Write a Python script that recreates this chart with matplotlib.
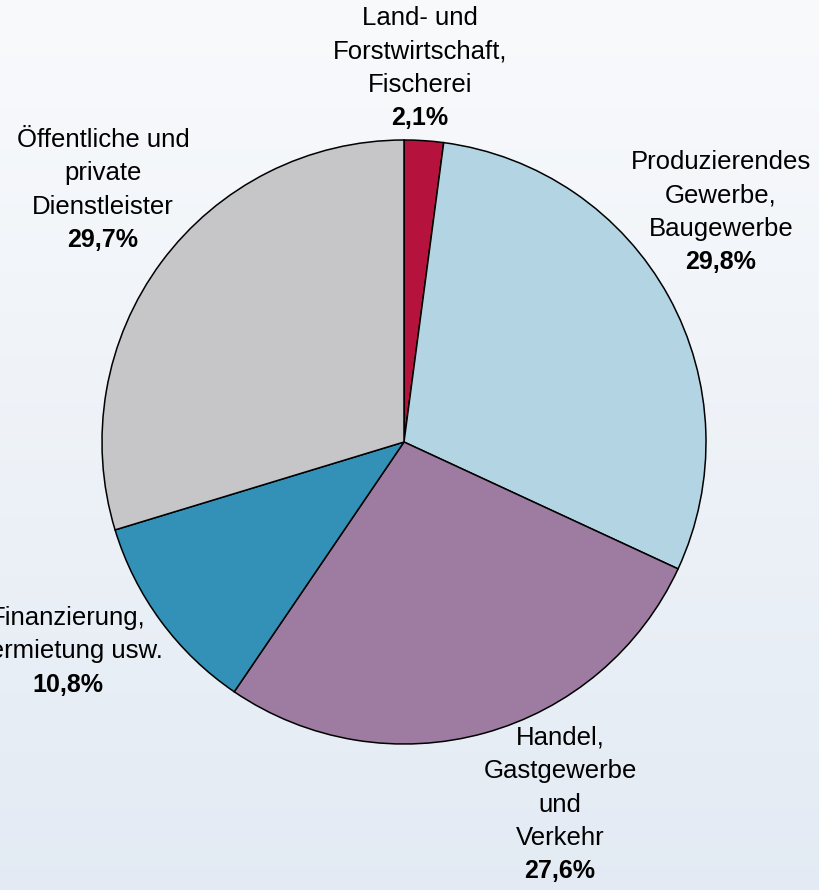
import matplotlib.pyplot as plt
import numpy as np

plt.rcParams['font.family'] = ['Liberation Sans', 'DejaVu Sans']

# Anteile der Wirtschaftsbereiche (im Uhrzeigersinn ab 12 Uhr)
sectors = [
    'Land- und\nForstwirtschaft,\nFischerei',
    'Produzierendes\nGewerbe,\nBaugewerbe',
    'Handel,\nGastgewerbe\nund\nVerkehr',
    'Finanzierung,\nVermietung usw.',
    'Öffentliche und\nprivate\nDienstleister',
]
shares = [2.1, 29.8, 27.6, 10.8, 29.7]
colors = ['#b5123e', '#b3d5e3', '#9e7ba0', '#3390b7', '#c6c6c8']
# label anchors (pixel x, pixel y of first line, from top)
label_pos = [(420, 18), (721, 162), (560, 738), (68, 618), (103, 140)]

W, H = 819, 890
fig = plt.figure(figsize=(W / 100, H / 100), dpi=100)

# background gradient
bg = fig.add_axes([0, 0, 1, 1])
grad = np.linspace(0, 1, 256).reshape(-1, 1)
top = np.array([0.975, 0.980, 0.988])
bottom = np.array([0.890, 0.920, 0.955])
img = top + (bottom - top) * grad[..., None]
bg.imshow(img, aspect='auto', extent=[0, 1, 0, 1], origin='upper')
bg.axis('off')

ax = fig.add_axes([0, 0, 1, 1])
ax.pie(shares, colors=colors, startangle=90, counterclock=False,
       center=(404, H - 442), radius=302, frame=True,
       wedgeprops=dict(edgecolor='black', linewidth=1.1))
ax.set_xlim(0, W)
ax.set_ylim(0, H)
ax.set_aspect('equal')
ax.axis('off')

step = 33.3
for name, val, (x, y) in zip(sectors, shares, label_pos):
    lines = name.split('\n')
    for i, line in enumerate(lines):
        ax.text(x, H - (y + i * step), line, ha='center', va='center',
                fontsize=18.5, color='black')
    pct = f'{val:.1f}%'.replace('.', ',')
    ax.text(x, H - (y + len(lines) * step), pct, ha='center', va='center',
            fontsize=18, fontweight='bold', color='black')

fig.savefig('out.png', dpi=100)
